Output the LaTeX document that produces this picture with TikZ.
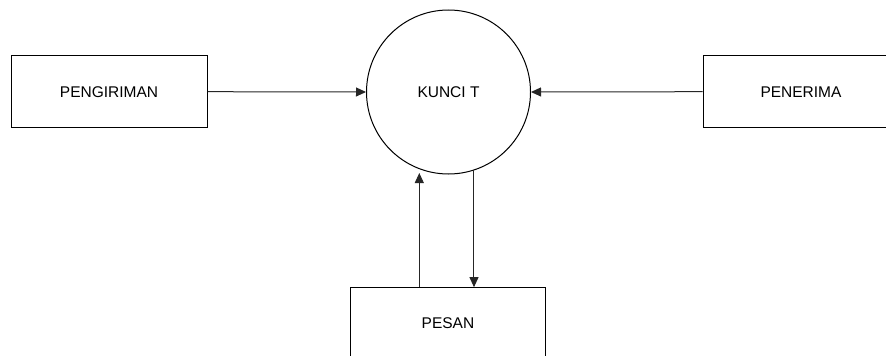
\documentclass[tikz,border=0pt]{standalone}
\usepackage{fontspec}
\setmainfont{Liberation Sans}
\usetikzlibrary{arrows.meta}
\begin{document}
\begin{tikzpicture}[x=1pt,y=-1pt,
  entity/.style={draw=black,line width=1pt,rectangle,inner sep=0pt,
    minimum width=196pt,minimum height=71.5pt,font=\fontsize{15.5}{18}\selectfont},
  process/.style={draw=black,line width=1pt,circle,inner sep=0pt,
    minimum size=164pt,font=\fontsize{15.5}{18}\selectfont},
  flow/.style={draw=black!85,line width=1pt,-{Triangle[length=10pt,width=9pt]}}]
  \useasboundingbox (0,0) rectangle (886,356);
  \clip (0,0) rectangle (886,356);
  % external entities and the central process
  \node[entity]  (peng)  at (109,91.7)  {PENGIRIMAN};
  \node[process] (kunci) at (448.5,92)  {KUNCI T};
  \node[entity]  (pener) at (801,91.7)  {PENERIMA};
  \node[entity,minimum width=194.6pt] (pesan) at (448,323.4) {PESAN};
  % data flows
  \coordinate (uptip) at (419.3,173);
  \draw[flow] (peng.east) -- (kunci.west);
  \draw[flow] (pener.west) -- (kunci.east);
  \draw[flow] (pesan.north -| uptip) -- (uptip);
  \draw[flow] (kunci.-72.4) -- (kunci.-72.4 |- pesan.north);
\end{tikzpicture}
\end{document}
